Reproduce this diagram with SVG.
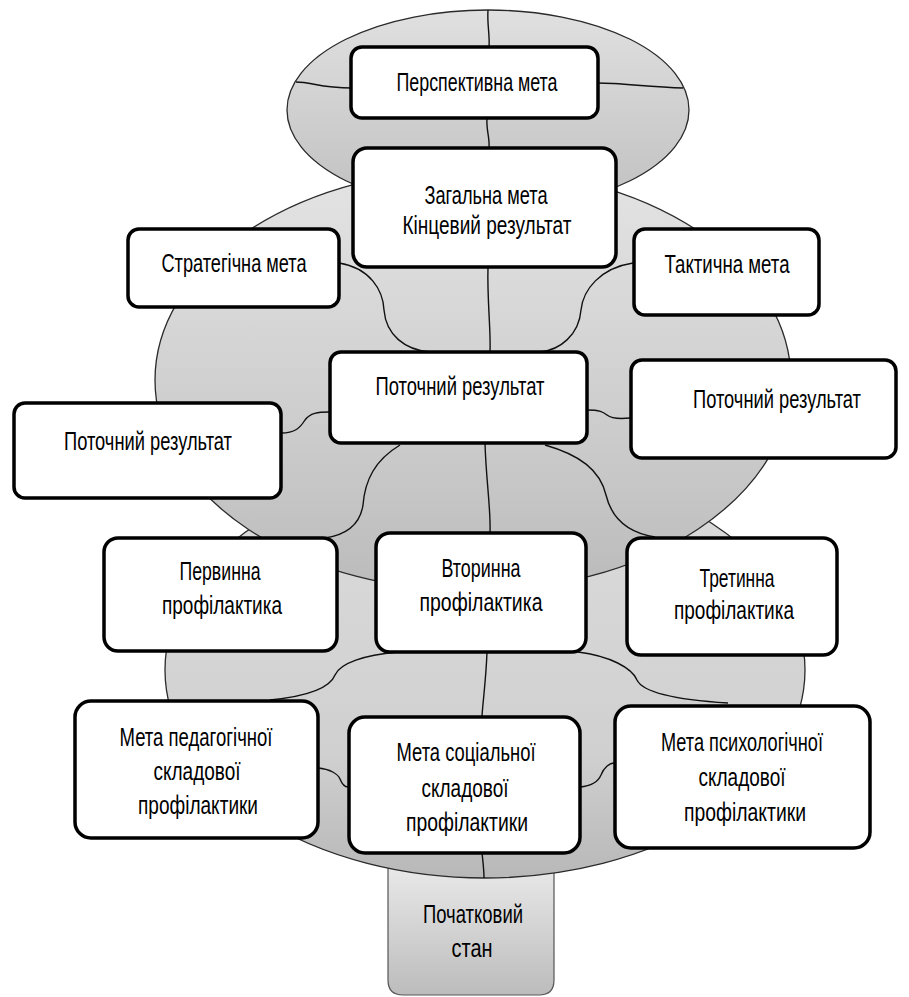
<svg xmlns="http://www.w3.org/2000/svg" width="909" height="997" viewBox="0 0 909 997">
<defs>
<linearGradient id="gTop" x1="0" y1="0" x2="0" y2="1">
<stop offset="0" stop-color="#e0e0e0"/><stop offset="1" stop-color="#c0c0c0"/>
</linearGradient>
<linearGradient id="gMid" x1="0" y1="0" x2="0" y2="1">
<stop offset="0" stop-color="#e4e4e4"/><stop offset="0.6" stop-color="#cdcdcd"/><stop offset="1" stop-color="#bbbbbb"/>
</linearGradient>
<linearGradient id="gLow" x1="0" y1="0" x2="0" y2="1">
<stop offset="0" stop-color="#dcdcdc"/><stop offset="0.7" stop-color="#d0d0d0"/><stop offset="1" stop-color="#b8b8b8"/>
</linearGradient>
<linearGradient id="gBase" x1="0" y1="0" x2="0" y2="1">
<stop offset="0" stop-color="#ebebeb"/><stop offset="1" stop-color="#bcbcbc"/>
</linearGradient>
<style>
.shape{stroke:#2a2a2a;stroke-width:1.3}
.box{fill:#ffffff;stroke:#000;stroke-width:3.5}
.con{fill:none;stroke:#111;stroke-width:1.4}
text{font-family:"Liberation Sans",Arial,sans-serif;font-size:25px;fill:#000;text-anchor:middle}
</style>
</defs>

<g id="background">
<path id="base" d="M388,860 L554,860 L554,980 Q554,995 539,995 L403,995 Q388,995 388,980 Z" fill="url(#gBase)" stroke="#555" stroke-width="1.2"/>
<ellipse cx="485" cy="670" rx="320" ry="208" fill="url(#gLow)" class="shape"/>
<ellipse cx="473" cy="380" rx="318" ry="211" fill="url(#gMid)" class="shape"/>
<ellipse cx="488" cy="110" rx="201" ry="100" fill="url(#gTop)" class="shape"/>
</g>

<g id="connectors">
<path class="con" d="M488,10 C487,25 490,35 489,47"/>
<path class="con" d="M296,82 C312,82 320,88 352,88"/>
<path class="con" d="M598,83 C620,83 650,87 683,88"/>
<path class="con" d="M487,118 C486,130 490,138 489,148"/>
<path class="con" d="M488,267 C487,300 491,330 490,352"/>
<path class="con" d="M339,263 C370,268 383,290 384,310 C386,335 405,350 430,352"/>
<path class="con" d="M633,263 C600,268 583,290 581,310 C579,335 560,350 540,352"/>
<path class="con" d="M281,433 C295,433 300,428 305,420 C310,413 318,412 329,412"/>
<path class="con" d="M587,410 C600,410 603,412 607,415 C612,419 620,419 630,418"/>
<path class="con" d="M485,443 C486,480 491,510 490,532"/>
<path class="con" d="M400,445 C375,460 365,480 363,505 C360,525 345,535 325,538"/>
<path class="con" d="M545,445 C580,455 600,470 606,495 C612,520 630,533 655,537"/>
<path class="con" d="M487,652 C486,680 483,700 482,716"/>
<path class="con" d="M397,652 C365,655 340,663 335,675 C330,688 310,696 270,700"/>
<path class="con" d="M578,652 C610,656 632,668 637,680 C643,693 680,700 728,703"/>
<path class="con" d="M318,768 C330,769 338,774 340,779 C342,784 345,787 348,787"/>
<path class="con" d="M580,787 C592,786 598,782 601,775 C604,767 610,763 614,763"/>
<path class="con" d="M482,853 C483,862 484,870 484,878"/>
</g>

<g id="n-perspective">
<rect class="box" x="351" y="47" width="247" height="71" rx="11"/>
<text x="477" y="91" textLength="161" lengthAdjust="spacingAndGlyphs">Перспективна мета</text>
</g>
<g id="n-general">
<rect class="box" x="353" y="148" width="263" height="119" rx="14"/>
<text x="486" y="204" textLength="123" lengthAdjust="spacingAndGlyphs">Загальна мета</text>
<text x="487" y="234" textLength="169" lengthAdjust="spacingAndGlyphs">Кінцевий результат</text>
</g>
<g id="n-strategic">
<rect class="box" x="128" y="229" width="211" height="78" rx="11"/>
<text x="234" y="272" textLength="145" lengthAdjust="spacingAndGlyphs">Стратегічна мета</text>
</g>
<g id="n-tactical">
<rect class="box" x="634" y="229" width="185" height="86" rx="11"/>
<text x="727" y="273" textLength="125" lengthAdjust="spacingAndGlyphs">Тактична мета</text>
</g>
<g id="n-current-center">
<rect class="box" x="330" y="352" width="257" height="91" rx="11"/>
<text x="460" y="395" textLength="169" lengthAdjust="spacingAndGlyphs">Поточний результат</text>
</g>
<g id="n-current-left">
<rect class="box" x="14" y="403" width="267" height="95" rx="11"/>
<text x="148" y="450" textLength="168" lengthAdjust="spacingAndGlyphs">Поточний результат</text>
</g>
<g id="n-current-right">
<rect class="box" x="631" y="360" width="265" height="98" rx="11"/>
<text transform="translate(777,408) scale(0.8,1)" x="0" y="0" textLength="210" lengthAdjust="spacingAndGlyphs">Поточний результат</text>
</g>
<g id="n-primary">
<rect class="box" x="104" y="538" width="233" height="113" rx="14"/>
<text x="220" y="580" textLength="81" lengthAdjust="spacingAndGlyphs">Первинна</text>
<text x="222" y="614" textLength="120" lengthAdjust="spacingAndGlyphs">профілактика</text>
</g>
<g id="n-secondary">
<rect class="box" x="376" y="533" width="210" height="119" rx="14"/>
<text x="481" y="577" textLength="79" lengthAdjust="spacingAndGlyphs">Вторинна</text>
<text x="481" y="611" textLength="123" lengthAdjust="spacingAndGlyphs">профілактика</text>
</g>
<g id="n-tertiary">
<rect class="box" x="627" y="538" width="210" height="117" rx="14"/>
<text x="737" y="587" textLength="75" lengthAdjust="spacingAndGlyphs">Третинна</text>
<text x="734" y="619" textLength="120" lengthAdjust="spacingAndGlyphs">профілактика</text>
</g>
<g id="n-pedagogical">
<rect class="box" x="75" y="701" width="243" height="137" rx="16"/>
<text x="196" y="746" textLength="153" lengthAdjust="spacingAndGlyphs">Мета педагогічної</text>
<text x="197" y="780" textLength="87" lengthAdjust="spacingAndGlyphs">складової</text>
<text x="198" y="814" textLength="120" lengthAdjust="spacingAndGlyphs">профілактики</text>
</g>
<g id="n-social">
<rect class="box" x="349" y="717" width="231" height="136" rx="16"/>
<text x="466" y="761" textLength="139" lengthAdjust="spacingAndGlyphs">Мета соціальної</text>
<text x="465" y="797" textLength="87" lengthAdjust="spacingAndGlyphs">складової</text>
<text x="467" y="831" textLength="122" lengthAdjust="spacingAndGlyphs">профілактики</text>
</g>
<g id="n-psychological">
<rect class="box" x="615" y="706" width="255" height="142" rx="16"/>
<text x="742" y="751" textLength="162" lengthAdjust="spacingAndGlyphs">Мета психологічної</text>
<text x="742" y="786" textLength="87" lengthAdjust="spacingAndGlyphs">складової</text>
<text x="745" y="821" textLength="122" lengthAdjust="spacingAndGlyphs">профілактики</text>
</g>
<g id="n-initial">
<text x="473" y="923" textLength="100" lengthAdjust="spacingAndGlyphs" fill="#111">Початковий</text>
<text x="472" y="957" textLength="41" lengthAdjust="spacingAndGlyphs" fill="#111">стан</text>
</g>
</svg>
